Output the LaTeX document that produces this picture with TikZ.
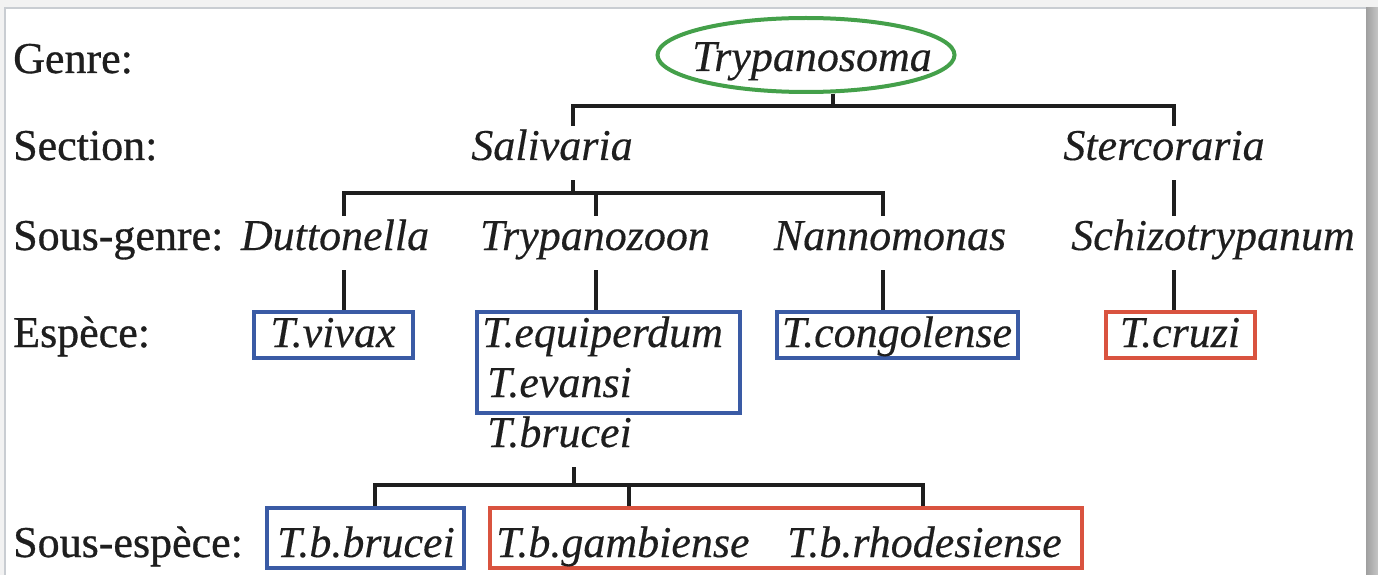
\documentclass[tikz,border=0pt]{standalone}
\usepackage{fontspec}
\setmainfont{Liberation Serif}
\newfontfamily\lblfont{Liberation Serif}[FakeBold=0.7]
\newfontfamily\taxfont{Liberation Serif}[FakeBold=0.3]
\usetikzlibrary{shapes.geometric}
\definecolor{bxblue}{HTML}{3A5BA5}
\definecolor{bxred}{HTML}{D9533F}
\definecolor{elgreen}{HTML}{44A04A}
\definecolor{framegray}{HTML}{C9CDD2}
\definecolor{ink}{HTML}{1E1E1E}
\begin{document}
\begin{tikzpicture}[x=1pt,y=-1pt,
  lbl/.style={anchor=base west, inner sep=0pt, text=ink, font=\lblfont\fontsize{44}{48}\selectfont},
  tx/.style={anchor=base, inner sep=0pt, text=ink, text height=34pt, text depth=20pt, font=\taxfont\fontsize{44}{48}\selectfont\itshape},
  bluebox/.style={draw=bxblue, line width=4pt, inner sep=0pt},
  redbox/.style={draw=bxred, line width=4pt, inner sep=0pt},
  link/.style={line width=4.2pt, draw=ink},
]
\useasboundingbox (0,0) rectangle (1378,575);
% frame
\fill[gray!10] (0,0) rectangle (1378,575);
\fill[white] (5,8) rectangle (1366,575);
\draw[framegray, line width=1.5pt] (5,575) -- (5,8) -- (1366,8);
\shade[left color=gray!75, right color=gray!45] (1366,8) rectangle (1378,575);

% row labels
\node[lbl] (lgenre) at (13,73) {Genre:};
\node[lbl] (lsection) at (13,160) {Section:};
\node[lbl] (lsousgenre) at (13,250) {Sous-genre:};
\node[lbl] (lespece) at (13,347) {Espèce:};
\node[lbl] (lsousesp) at (13,557) {Sous-espèce:};

% genus
\node[draw=elgreen, line width=4pt, ellipse, minimum width=297pt, minimum height=74pt, inner sep=0pt] (genus) at (806,55) {};
\node[tx] (tgenus) at (812,71) {Trypanosoma};

% sections
\coordinate (j0) at (833,106);
\coordinate (j0l) at (573,106);
\coordinate (j0r) at (1174,106);
\node[tx] (saliv) at (552,160) {Salivaria};
\node[tx] (sterc) at (1164,160) {Stercoraria};
\draw[link] (j0 |- genus.south) -- (j0);
\draw[link] (saliv.north -| j0l) -- (j0l) -- (j0r) -- (sterc.north -| j0r);

% sub-genera
\coordinate (j1) at (573,193);
\coordinate (j1l) at (344,193);
\coordinate (j1m) at (596,193);
\coordinate (j1r) at (883,193);
\node[tx] (dutt) at (335,250) {Duttonella};
\node[tx] (trypz) at (595,250) {Trypanozoon};
\node[tx] (nanno) at (890,250) {Nannomonas};
\node[tx] (schizo) at (1213,250) {Schizotrypanum};
\draw[link] (saliv.south -| j1) -- (j1);
\draw[link] (dutt.north -| j1l) -- (j1l) -- (j1r) -- (nanno.north -| j1r);
\draw[link] (j1m) -- (trypz.north -| j1m);
\draw[link] (sterc.south -| j0r) -- (schizo.north -| j0r);

% species
\node[bluebox, minimum width=159pt, minimum height=46pt] (bvivax) at (333.5,335) {};
\node[bluebox, minimum width=263pt, minimum height=101pt] (bbig) at (608.5,362.5) {};
\node[bluebox, minimum width=241pt, minimum height=46pt] (bcongo) at (897.5,335) {};
\node[redbox, minimum width=149pt, minimum height=46pt] (bcruzi) at (1180.5,335) {};
\node[tx] (tvivax) at (333,347) {T.vivax};
\node[tx, anchor=base west] (tequi) at (482,347) {T.equiperdum};
\node[tx, anchor=base west] (tevansi) at (487,397) {T.evansi};
\node[tx, anchor=base west] (tbrucei) at (487,447) {T.brucei};
\node[tx] (tcongo) at (897,347) {T.congolense};
\node[tx] (tcruzi) at (1180,347) {T.cruzi};
\draw[link] (dutt.south -| j1l) -- (bvivax.north -| j1l);
\draw[link] (trypz.south -| j1m) -- (bbig.north -| j1m);
\draw[link] (nanno.south -| j1r) -- (bcongo.north -| j1r);
\draw[link] (schizo.south -| j0r) -- (bcruzi.north -| j0r);

% sub-species
\coordinate (j2) at (574,485);
\coordinate (j2l) at (375,485);
\coordinate (j2m) at (629,485);
\coordinate (j2r) at (923,485);
\node[bluebox, minimum width=197pt, minimum height=60pt] (bbb) at (365.5,538) {};
\node[redbox, minimum width=592pt, minimum height=60pt] (bred) at (786,538) {};
\node[tx] (tbb) at (366,557) {T.b.brucei};
\node[tx, anchor=base west] (tgamb) at (496,557) {T.b.gambiense};
\node[tx, anchor=base west] (trhod) at (787,557) {T.b.rhodesiense};
\draw[link] (tbrucei.south -| j2) -- (j2);
\draw[link] (bbb.north -| j2l) -- (j2l) -- (j2r) -- (bred.north -| j2r);
\draw[link] (j2m) -- (bred.north -| j2m);
\end{tikzpicture}
\end{document}
